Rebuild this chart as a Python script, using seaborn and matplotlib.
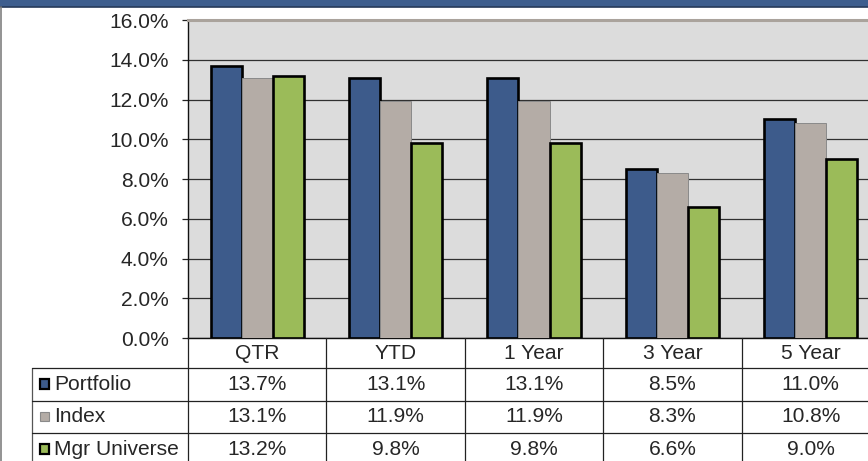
import matplotlib
matplotlib.use("Agg")
import matplotlib.pyplot as plt
import matplotlib.patches as mpatches
import seaborn as sns
import pandas as pd

# Data
periods = ["QTR", "YTD", "1 Year", "3 Year", "5 Year"]
series_names = ["Portfolio", "Index", "Mgr Universe"]
portfolio = [13.7, 13.1, 13.1, 8.5, 11.0]
index_ret = [13.1, 11.9, 11.9, 8.3, 10.8]
mgr_universe = [13.2, 9.8, 9.8, 6.6, 9.0]
y_ticks = [0, 2, 4, 6, 8, 10, 12, 14, 16]

colors = ["#3d5b8b", "#b4aca6", "#9bbb59"]
edge_colors = ["#000000", "#8a8a8a", "#000000"]
edge_widths = [1.9, 0.7, 1.9]

df = pd.DataFrame({
    "period": periods * 3,
    "series": [s for s in series_names for _ in periods],
    "value": portfolio + index_ret + mgr_universe,
})

sns.set_style("white")
plt.rcParams["font.family"] = ["Liberation Sans", "DejaVu Sans"]
FS = 15.1

W, H = 868, 461
fig = plt.figure(figsize=(W / 100, H / 100), dpi=100)
fig.set_facecolor("white")

# plot area: x 188..880 px, y 20..338 px (from top)
ax = fig.add_axes([188 / W, (H - 338) / H, (880 - 188) / W, (338 - 20) / H])
sns.barplot(data=df, x="period", y="value", hue="series", order=periods,
            hue_order=series_names, palette=colors, width=0.672,
            saturation=1, legend=False, ax=ax, zorder=3)
for cont, ec, lw in zip(ax.containers, edge_colors, edge_widths):
    for bar in cont:
        bar.set_edgecolor(ec)
        bar.set_linewidth(lw)

ax.set_facecolor("#dcdcdc")
ax.set_xlim(-0.5, len(periods) - 0.5)
ax.set_ylim(0, 16)
ax.set_yticks(y_ticks)
ax.set_yticklabels([f"{v:.1f}%" for v in y_ticks], fontsize=FS)
ax.set_xticks([])
ax.set_xlabel("")
ax.set_ylabel("")
ax.yaxis.grid(True, color="#303030", linewidth=0.9, zorder=0)
ax.set_axisbelow(True)
ax.tick_params(axis="y", which="major", left=True, length=4.3, width=0.9,
               color="#222222", pad=9.5)
ax.spines["left"].set_color("#111111")
ax.spines["left"].set_linewidth(1.0)
ax.spines["bottom"].set_color("#111111")
ax.spines["bottom"].set_linewidth(1.0)
ax.spines["top"].set_color("#aaa39c")
ax.spines["top"].set_linewidth(2.2)
ax.spines["right"].set_visible(False)

# overlay axes in pixel coordinates for the header, frame and data table
ov = fig.add_axes([0, 0, 1, 1], zorder=5)
ov.set_xlim(0, W)
ov.set_ylim(H, 0)
ov.axis("off")
ov.patch.set_alpha(0)

# header band
ov.add_patch(mpatches.Rectangle((0, 0), W, 7, facecolor="#3e5e8e",
                                edgecolor="none"))
ov.plot([0, W], [7, 7], color="#263a5a", lw=1.2)
# left frame
ov.plot([1, 1], [7, H], color="#808080", lw=1.2)

# column edges from the bar axes' category scale
fig.canvas.draw()
def col_px(x):
    disp = ax.transData.transform((x, 0))
    return disp[0]

edges = [col_px(i - 0.5) for i in range(len(periods) + 1)]
centers = [col_px(i) for i in range(len(periods))]

top_y = 338
row_lines = [368, 400.5, 433]
row_mid = [384, 416.5, 449]
label_left = 32
line_kw = dict(color="#222222", lw=0.9)

for e in edges:
    ov.plot([e, e], [top_y, H], **line_kw)
ov.plot([label_left, label_left], [row_lines[0], H], color="#555555", lw=0.9)
for y in row_lines:
    ov.plot([label_left, edges[-1]], [y, y], **line_kw)

for c, p in zip(centers, periods):
    ov.text(c, 353, p, ha="center", va="center", fontsize=FS)

series_vals = [portfolio, index_ret, mgr_universe]
for r, (name, vals) in enumerate(zip(series_names, series_vals)):
    ym = row_mid[r]
    ov.add_patch(mpatches.Rectangle((39.5, ym - 5), 9.5, 9.5,
                                    facecolor=colors[r], edgecolor=edge_colors[r],
                                    lw=1.6 if r != 1 else 0.8))
    ov.text(54, ym, name, ha="left", va="center", fontsize=FS)
    for c, v in zip(centers, vals):
        ov.text(c, ym, f"{v:.1f}%", ha="center", va="center", fontsize=FS)

fig.savefig("out.png", dpi=100)
